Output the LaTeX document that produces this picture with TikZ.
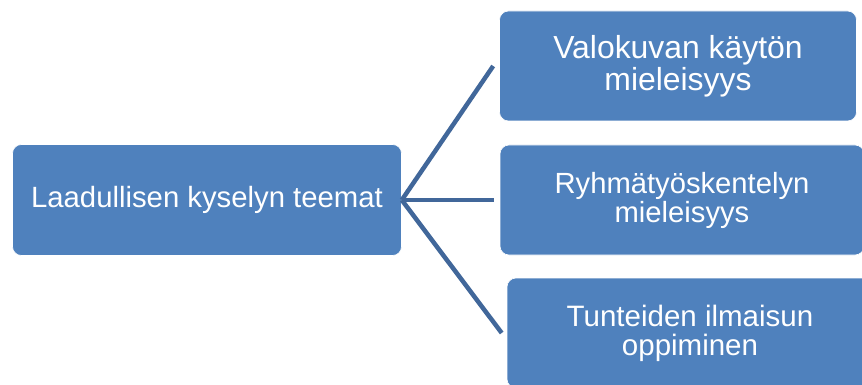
\documentclass[tikz,border=0pt]{standalone}
\usepackage{fontspec}
\setmainfont{Liberation Sans}
\usepackage{tikz}
\usetikzlibrary{positioning}

\definecolor{boxblue}{HTML}{4F81BD}
\definecolor{lineblue}{HTML}{41679A}

\begin{document}
\begin{tikzpicture}[
  x=1pt, y=-1pt,
  theme/.style={draw=white, line width=0.6pt, rectangle, rounded corners=9pt, fill=boxblue, text=white, align=center, inner sep=0pt},
  link/.style={draw=lineblue, line width=4.5pt}
]
  \clip (0,0) rectangle (862,385);
  \fill[white] (0,0) rectangle (862,385);

  % Nodes
  \node[theme, minimum width=389pt, minimum height=111pt, font=\fontsize{29.3}{31}\selectfont] (main) at (207,200) {Laadullisen kyselyn teemat};

  \node[theme, minimum width=357pt, minimum height=110pt, font=\fontsize{31.9}{32}\selectfont] (photo) at (678,66) {Valokuvan käytön\\mieleisyys};
  \node[theme, minimum width=364pt, minimum height=110pt, font=\fontsize{29.2}{29}\selectfont] (group) at (682,200) {Ryhmätyöskentelyn\\mieleisyys};
  \node[theme, minimum width=366pt, minimum height=110pt, font=\fontsize{29.5}{29}\selectfont] (feel) at (690,333) {Tunteiden ilmaisun\\oppiminen};

  % Connectors
  \draw[link] (main.east) -- ([xshift=-6pt]photo.west);
  \draw[link] (main.east) -- ([xshift=-6pt]group.west);
  \draw[link] (main.east) -- ([xshift=-5pt]feel.west);
\end{tikzpicture}
\end{document}
